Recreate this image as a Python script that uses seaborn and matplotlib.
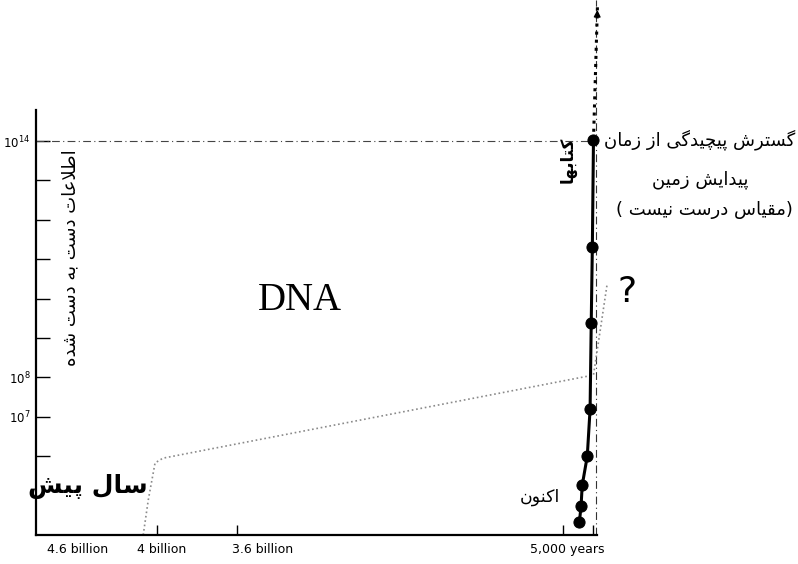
import numpy as np
import pandas as pd
import seaborn as sns
from matplotlib import pyplot as plt

# schematic time axis: 0 = 4.6 billion years ago, ~99 = today (not to scale)
tick_pos = [21.5, 35.6, 93.4, 98.8]
label_pos = [7.3, 22.2, 40.1, 94.1]
label_txt = ["4.6 billion", "4 billion", "3.6 billion", "5,000 years"]

# information (log10) carried by books / culture
book_x = [96.3, 96.3, 96.6, 96.8, 97.7, 98.2, 98.4, 98.6, 98.8]
book_logy = [4.17, 4.45, 4.73, 5.26, 6.0, 7.2, 9.38, 11.31, 14.03]
future_x = [98.8, 99.5]
future_logy = [14.03, 17.4]

# information (log10) carried by DNA
dna_x = [19.0, 19.9, 21.1, 22.5, 98.8, 100.0, 101.2]
dna_logy = [4.0, 4.89, 5.83, 5.95, 8.06, 9.2, 10.35]

ytick_exp = [6, 7, 8, 9, 10, 11, 12, 13, 14]
ytick_lbl = ["", r"$10^7$", r"$10^8$", "", "", "", "", "", r"$10^{14}$"]

# --- minimal Persian shaping (presentation forms + visual order) ---
DUAL = {'ب': 0xFE8F, 'ت': 0xFE95, 'س': 0xFEB1, 'ش': 0xFEB5, 'ط': 0xFEC1,
        'ع': 0xFEC9, 'ق': 0xFED5, 'ل': 0xFEDD, 'م': 0xFEE1, 'ن': 0xFEE5,
        'ه': 0xFEE9, 'پ': 0xFB56, 'چ': 0xFB7A, 'ک': 0xFB8E, 'گ': 0xFB92,
        'ی': 0xFBFC}
RIGHT = {'ا': 0xFE8D, 'د': 0xFEA9, 'ر': 0xFEAD, 'ز': 0xFEAF, 'و': 0xFEED,
         'LA': 0xFEFB}


def farsi(text):
    toks = []
    i = 0
    while i < len(text):
        if text[i] == 'ل' and i + 1 < len(text) and text[i + 1] == 'ا':
            toks.append('LA')
            i += 2
        else:
            toks.append(text[i])
            i += 1
    out = []
    for k, t in enumerate(toks):
        if t in DUAL:
            base = DUAL[t]
        elif t in RIGHT:
            base = RIGHT[t]
        else:
            out.append(t)
            continue
        prev = toks[k - 1] if k > 0 else None
        nxt = toks[k + 1] if k + 1 < len(toks) else None
        p = prev in DUAL
        n = t in DUAL and (nxt in DUAL or nxt in RIGHT)
        out.append(chr(base + (1 if p else 0) + (2 if n else 0)))
    return ''.join(reversed(out))


sns.set_style("ticks")
plt.rcParams['font.family'] = ['DejaVu Sans']
plt.rcParams['text.color'] = 'black'
plt.rcParams['xtick.color'] = 'black'
plt.rcParams['ytick.color'] = 'black'

fig = plt.figure(figsize=(7.98, 5.64), dpi=100)
ax = fig.add_axes([36 / 798, 29 / 564, 584 / 798, 535 / 564])

books = pd.DataFrame({"x": book_x, "y": 10 ** np.array(book_logy)})
future = pd.DataFrame({"x": future_x, "y": 10 ** np.array(future_logy)})
dna = pd.DataFrame({"x": dna_x, "y": 10 ** np.array(dna_logy)})

# reference lines
ax.axhline(1e14, xmin=0, xmax=book_x[-1] / 103.5, color="#444444", lw=0.8,
           dashes=(7, 3, 1, 3))
ax.axvline(99.2, color="#333333", lw=0.8, dashes=(7, 3, 1, 3))

sns.lineplot(data=dna, x="x", y="y", ax=ax, color="#8a8a8a", lw=1.2,
             linestyle=":", sort=False, clip_on=False)
sns.lineplot(data=future, x="x", y="y", ax=ax, color="black", lw=2.2,
             linestyle=":", sort=False)
ax.annotate("", xy=(future_x[-1], 10 ** future_logy[-1]),
            xytext=(future_x[-1] - 0.05, 10 ** (future_logy[-1] - 0.3)),
            arrowprops=dict(arrowstyle="-|>", color="black", lw=1))
sns.lineplot(data=books, x="x", y="y", ax=ax, color="black", lw=2.2,
             sort=False, marker="o", markersize=8, markerfacecolor="black",
             markeredgecolor="black", clip_on=False, zorder=5)

ax.set_yscale("log")
ax.set_xlim(0, 103.5)
ax.set_ylim(1e4, 10 ** 17.58)
ax.set_xlabel("")
ax.set_ylabel("")

ax.set_yticks([10.0 ** e for e in ytick_exp])
ax.set_yticklabels(ytick_lbl, fontsize=8.5)
ax.yaxis.set_minor_locator(plt.NullLocator())
ax.tick_params(axis="y", direction="in", length=10, width=1, pad=4)

ax.set_xticks(tick_pos)
ax.set_xticklabels([""] * len(tick_pos))
ax.set_xticks(label_pos, minor=True)
ax.set_xticklabels(label_txt, minor=True, fontsize=9)
ax.tick_params(axis="x", which="major", direction="in", length=7, width=1)
ax.tick_params(axis="x", which="minor", length=0, pad=6)

sns.despine(ax=ax, top=True, right=True)
ax.spines["left"].set_bounds(1e4, 10 ** 14.79)
ax.spines["bottom"].set_bounds(0, 99.5)
for s in ["left", "bottom"]:
    ax.spines[s].set_linewidth(1.6)
    ax.spines[s].set_color("black")

# annotations
fig.text(0.376, 0.468, "DNA", family="Liberation Serif", fontsize=28,
         ha="center", va="center")
fig.text(0.786, 0.482, "?", fontsize=26, ha="center", va="center")
fig.text(0.877, 0.752, farsi("گسترش پیچیدگی از زمان"), fontsize=13,
         ha="center", va="center")
fig.text(0.877, 0.681, farsi("پیدایش زمین"), fontsize=13,
         ha="center", va="center")
fig.text(0.883, 0.628, "( " + farsi("مقیاس درست نیست") + ")", fontsize=13,
         ha="center", va="center")
fig.text(0.0877, 0.543, farsi("اطلاعات دست به دست شده"), fontsize=13,
         rotation=90, ha="center", va="center")
fig.text(0.711, 0.716, farsi("کتابها"), fontsize=12, rotation=90,
         weight="bold", ha="center", va="center")
fig.text(0.110, 0.137, farsi("سال پیش"), fontsize=18, weight="bold",
         ha="center", va="center")
fig.text(0.677, 0.119, farsi("اکنون"), fontsize=12.5, ha="center",
         va="center")

fig.savefig("out.png", dpi=100)
